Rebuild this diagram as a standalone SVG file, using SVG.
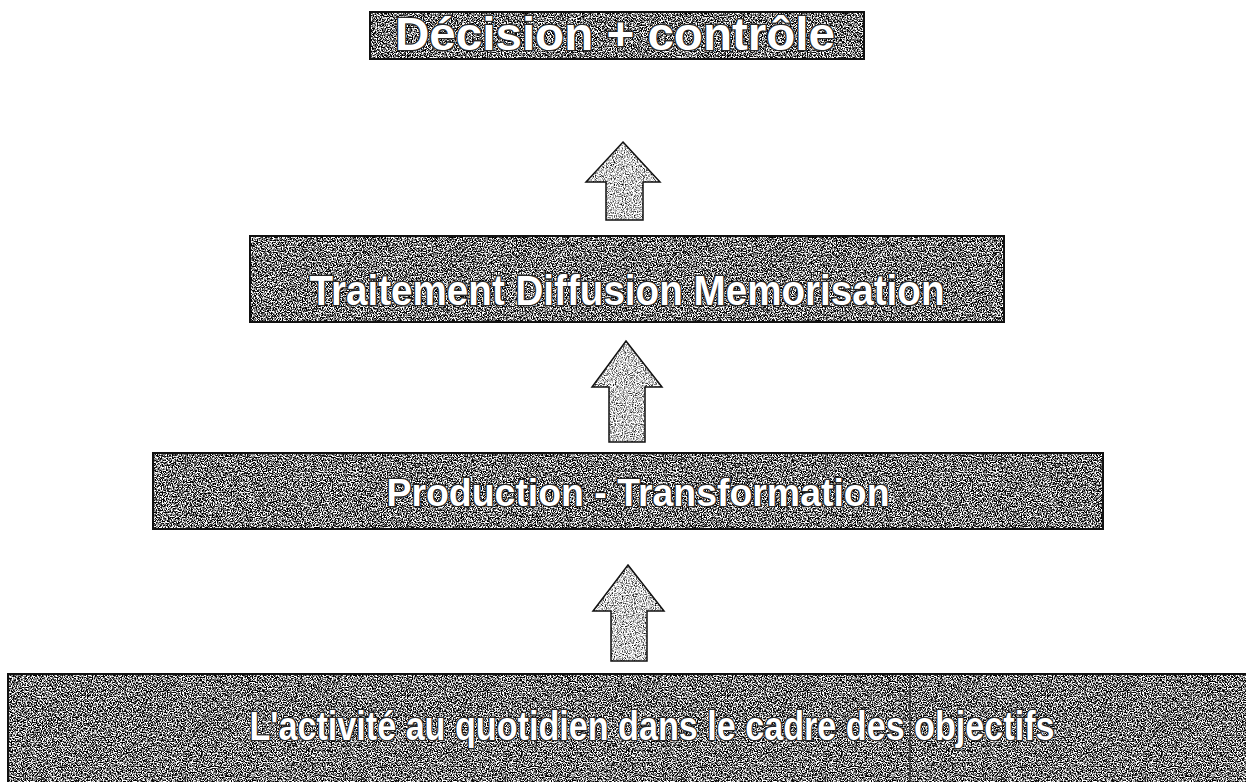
<svg xmlns="http://www.w3.org/2000/svg" width="1246" height="782" viewBox="0 0 1246 782">
<defs>
  <filter id="darkNoise" x="0" y="0" width="100%" height="100%" filterUnits="objectBoundingBox" color-interpolation-filters="sRGB">
    <feTurbulence type="fractalNoise" baseFrequency="0.8" numOctaves="2" seed="7" result="t"/>
    <feColorMatrix in="t" type="matrix" values="4.5 0 0 0 -1.8  4.5 0 0 0 -1.8  4.5 0 0 0 -1.8  0 0 0 0 1" result="g"/>
    <feComposite in="g" in2="SourceGraphic" operator="in"/>
  </filter>
  <filter id="lightNoise" x="0" y="0" width="100%" height="100%" filterUnits="objectBoundingBox" color-interpolation-filters="sRGB">
    <feTurbulence type="fractalNoise" baseFrequency="0.9" numOctaves="2" seed="3" result="t"/>
    <feColorMatrix in="t" type="matrix" values="2.6 0 0 0 -0.5  2.6 0 0 0 -0.5  2.6 0 0 0 -0.5  0 0 0 0 1" result="g"/>
    <feComposite in="g" in2="SourceGraphic" operator="in"/>
  </filter>
  <style>
    .box { fill: #808080; filter: url(#darkNoise); }
    .border { fill: none; stroke: #111; stroke-width: 2; }
    .arrowFill { fill: #c8c8c8; filter: url(#lightNoise); }
    .arrowLine { fill: none; stroke: #111; stroke-width: 1.5; stroke-linejoin: miter; }
    .lbl { font-family: "Liberation Sans", Arial, sans-serif; font-weight: bold; fill: #ffffff; stroke: #262626; stroke-width: 2.6; paint-order: stroke; text-anchor: middle; }
    .sep { stroke: #222; stroke-width: 1.2; }
  </style>
</defs>
<rect width="1246" height="782" fill="#ffffff"/>

<g id="connectors">
  <g id="arrow1">
    <path class="arrowFill" d="M623,142 L660,182 L643,182 L643,220 L606,220 L606,182 L586,182 Z"/>
    <path class="arrowLine" d="M623,142 L660,182 L643,182 L643,220 L606,220 L606,182 L586,182 Z"/>
  </g>
  <g id="arrow2">
    <path class="arrowFill" d="M626,341 L662,387 L645,387 L645,442 L609,442 L609,387 L592,387 Z"/>
    <path class="arrowLine" d="M626,341 L662,387 L645,387 L645,442 L609,442 L609,387 L592,387 Z"/>
  </g>
  <g id="arrow3">
    <path class="arrowFill" d="M628,565 L664,611 L647,611 L647,661 L611,661 L611,611 L593,611 Z"/>
    <path class="arrowLine" d="M628,565 L664,611 L647,611 L647,661 L611,661 L611,611 L593,611 Z"/>
  </g>
</g>

<g id="node-decision">
  <rect class="box" x="370" y="12" width="494" height="47"/>
  <rect class="border" x="370" y="12" width="494" height="47"/>
  <text class="lbl" x="615" y="50" font-size="46" textLength="440" lengthAdjust="spacingAndGlyphs">Décision + contrôle</text>
</g>

<g id="node-traitement">
  <rect class="box" x="250" y="236" width="754" height="86"/>
  <rect class="border" x="250" y="236" width="754" height="86"/>
  <text class="lbl" x="627" y="305" font-size="42" textLength="635" lengthAdjust="spacingAndGlyphs">Traitement Diffusion Memorisation</text>
</g>

<g id="node-production">
  <rect class="box" x="153" y="453" width="950" height="76"/>
  <rect class="border" x="153" y="453" width="950" height="76"/>
  <text class="lbl" x="638" y="506" font-size="38" textLength="503" lengthAdjust="spacingAndGlyphs">Production - Transformation</text>
</g>

<g id="node-activite">
  <rect class="box" x="8" y="674" width="1250" height="120"/>
  <rect class="border" x="8" y="674" width="1250" height="120"/>
  <line class="sep" x1="910" y1="674" x2="910" y2="782"/>
  <text class="lbl" x="652" y="740" font-size="40" textLength="805" lengthAdjust="spacingAndGlyphs">L'activité au quotidien dans le cadre des objectifs</text>
</g>
</svg>
